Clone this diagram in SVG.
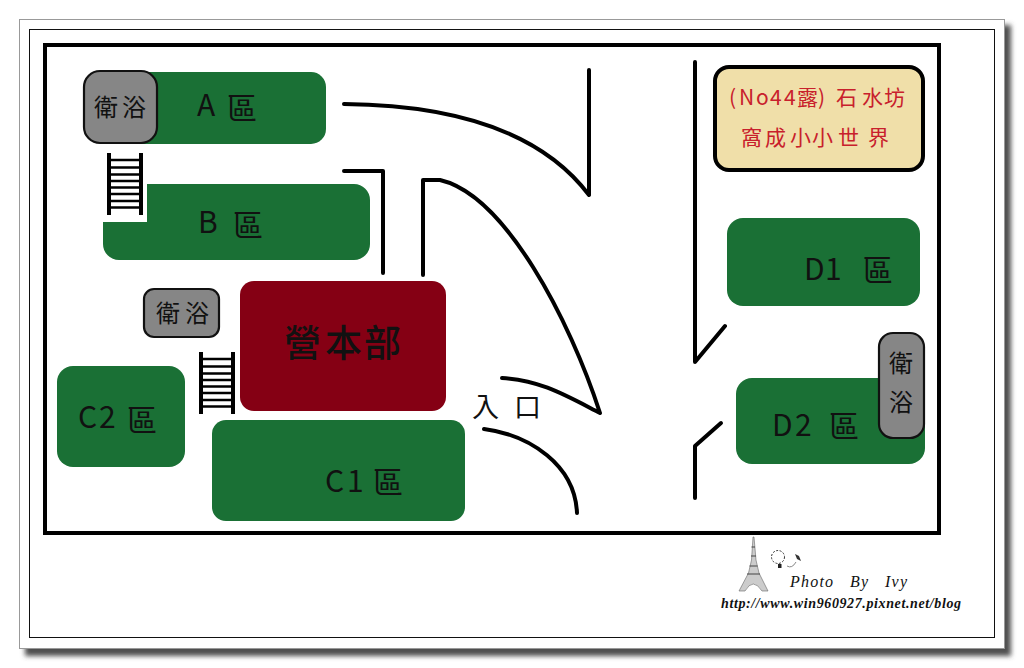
<svg xmlns="http://www.w3.org/2000/svg" width="1024" height="668" viewBox="0 0 1024 668">
<style>
.zone{fill:#1a7035}
.wc{fill:#868686;stroke:#111;stroke-width:2.2}
.t{font-family:"Noto Sans CJK TC","Noto Sans",sans-serif;fill:#111;font-size:30px}
.s{font-size:24px}
.road{fill:none;stroke:#000;stroke-width:4;stroke-linecap:round;stroke-linejoin:round}
.rail{stroke:#000;stroke-width:4}
.rung{stroke:#000;stroke-width:2.5}
.red{font-family:"Noto Sans CJK TC","Noto Sans",sans-serif;fill:#c8202c;font-size:21px}
.cr{font-family:"Liberation Serif",serif;font-style:italic;fill:#111}
</style>
<defs>
<filter id="blur" x="-5%" y="-5%" width="110%" height="110%"><feGaussianBlur stdDeviation="2.5"/></filter>
<g id="ladder">
<path class="rail" d="M2 0V62M34 0V62"/>
<path class="rung" d="M2 7H34M2 14.500H34M2 21.500H34M2 28H34M2 34.500H34M2 41H34M2 48H34M2 54.500H34"/>
</g>
</defs>
<rect width="1024" height="668" fill="#fff"/>
<g id="frame">
<rect x="25" y="25" width="986" height="631" fill="#505050" filter="url(#blur)"/>
<rect x="19.500" y="19.500" width="985" height="629" fill="#fff" stroke="#999"/>
<rect x="29.500" y="29.500" width="965" height="608" fill="#fff" stroke="#111"/>
<rect x="45" y="45" width="894" height="488" fill="#fff" stroke="#000" stroke-width="4"/>
</g>
<g id="connectors">
<path class="road" d="M344 104C450 105 540 130 589 195M589 70V195"/>
<path class="road" d="M344 171H383V273"/>
<path class="road" d="M423 275V180H440C505 195 570 320 600 413C565 395 540 380 502 378"/>
<path class="road" d="M484 429C530 435 575 465 577 513"/>
<path class="road" d="M695 62V362L725 326"/>
<path class="road" d="M695 498V446L721 423"/>
</g>
<g id="zone-a"><rect class="zone" x="120" y="72" width="206" height="72" rx="15"/><text class="t" x="197 216 227" y="116 116 119">A 區</text></g>
<g id="wc-a"><rect class="wc" x="84" y="71" width="73" height="72" rx="16"/><text class="t s" x="94 122" y="116">衛浴</text></g>
<g id="zone-b"><path class="zone" d="M147 184H354A16 16 0 0 1 370 200V244A16 16 0 0 1 354 260H119A16 16 0 0 1 103 244V222H147Z"/><text class="t" x="198 216 233" y="233 233 236">B 區</text></g>
<g id="ladder-1"><use href="#ladder" x="107" y="153"/></g>
<g id="wc-c"><rect class="wc" x="144" y="289" width="75" height="48" rx="10"/><text class="t s" x="156 185" y="322">衛浴</text></g>
<g id="office"><rect x="240" y="281" width="206" height="130" rx="14" fill="#850014"/><text class="t" x="284 325 364" y="357" style="font-size:37px;font-weight:500">營本部</text></g>
<g id="ladder-2"><use href="#ladder" x="199" y="352"/></g>
<g id="zone-c2"><rect class="zone" x="57" y="366" width="128" height="101" rx="16"/><text class="t" x="78 99 127" y="428 428 431">C2區</text></g>
<g id="zone-c1"><rect class="zone" x="212" y="420" width="253" height="101" rx="14"/><text class="t" x="325 347 373" y="492 492 493">C1區</text></g>
<g id="entrance"><text class="t" x="472 514" y="417" style="font-size:27px">入口</text></g>
<g id="title"><rect x="715" y="67" width="208" height="103" rx="14" fill="#f0dfa9" stroke="#000" stroke-width="4"/>
<text class="red" x="729 739 756 770 784 797 818 836 862 884" y="105" font-size="21">(No44露)石水坊</text>
<text class="red" x="741 765 790 812 838 868" y="145">窩成小小世界</text></g>
<g id="zone-d1"><rect class="zone" x="727" y="218" width="193" height="88" rx="16"/><text class="t" x="804 825 856" y="280 280 281">D1 區</text></g>
<g id="zone-d2"><rect class="zone" x="736" y="378" width="189" height="86" rx="16"/><text class="t" x="772 795 829" y="436 436 437">D2區</text></g>
<g id="wc-d"><rect class="wc" x="879" y="333" width="45" height="105" rx="14"/><text class="t s" x="889" y="372">衛</text><text class="t s" x="889" y="411">浴</text></g>
<g id="credit">
<path d="M753 537L751.500 560L748.500 573L739 591H745Q753 577 762 591H768L759 573L756 560L754 537Z" fill="#ccc" stroke="#666" stroke-width=".6"/>
<path d="M747 574H760M749.500 566H757.500M751 556H756M751.500 547H755" stroke="#444" stroke-width="1"/>
<circle cx="778" cy="557" r="6.500" fill="#fff" stroke="#333" stroke-width="1" stroke-dasharray="2 1.500"/>
<rect x="778" y="564" width="3.500" height="4" fill="#222"/>
<path d="M787 566Q792 569 796 562" fill="none" stroke="#888"/>
<path d="M795 554l4 2l2 5l-4-2Z" fill="#333"/>
<text class="cr" x="790" y="587" font-size="16" textLength="117" xml:space="preserve">Photo   By   Ivy</text>
<text class="cr" x="721" y="608" font-weight="700" font-size="14" textLength="240">http://www.win960927.pixnet.net/blog</text>
</g>
</svg>
